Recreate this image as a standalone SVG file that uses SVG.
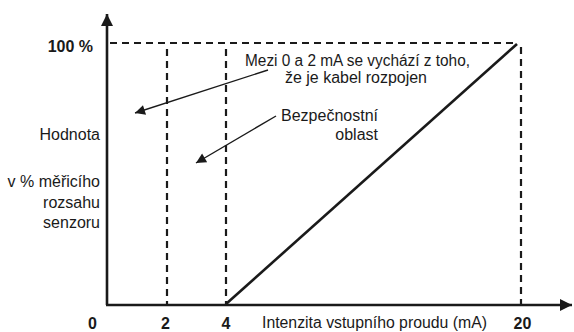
<svg xmlns="http://www.w3.org/2000/svg" width="574" height="332" viewBox="0 0 574 332">
<style>
.t{font-family:"Liberation Sans",Arial,sans-serif;font-size:16px;fill:#1a1a1a}
.b{font-family:"Liberation Sans",Arial,sans-serif;font-size:16px;font-weight:bold;fill:#1a1a1a}
.axis{stroke:#1a1a1a;stroke-width:2.6;fill:none}
.dash{stroke:#1a1a1a;stroke-width:2.2;stroke-dasharray:7 5;fill:none}
.ptr{stroke:#1a1a1a;stroke-width:1.4;fill:none}
</style>
<defs>
<marker id="ah" viewBox="0 0 10 10" refX="10" refY="5" markerWidth="15" markerHeight="10" markerUnits="userSpaceOnUse" orient="auto">
<path d="M0,0 L10,5 L0,10 Z" fill="#1a1a1a"/>
</marker>
<marker id="big" viewBox="0 0 10 10" refX="10" refY="5" markerWidth="16" markerHeight="12" markerUnits="userSpaceOnUse" orient="auto">
<path d="M0,0 L10,5 L0,10 Z" fill="#1a1a1a"/>
</marker>
</defs>
<g id="grid">
<path class="dash" d="M110,43 H517"/>
<path class="dash" d="M167,49 V305"/>
<path class="dash" d="M226,49 V305"/>
<path class="dash" d="M521,47 V305"/>
</g>
<g id="axes">
<path class="axis" d="M107,305 V14" marker-end="url(#big)"/>
<path class="axis" d="M106,305 H572" marker-end="url(#big)"/>
</g>
<g id="curve">
<path class="axis" d="M226,304 L517,44"/>
</g>
<g id="connectors">
<path class="ptr" d="M268,70 L135,113" marker-end="url(#ah)"/>
<path class="ptr" d="M276,116 L196,163" marker-end="url(#ah)"/>
</g>
<g id="y-labels">
<text class="b" x="93" y="52" text-anchor="end" font-size="17">100 %</text>
<text class="t" x="100" y="140" text-anchor="end" font-size="17">Hodnota</text>
<text class="t" x="100" y="187" text-anchor="end">v % měřicího</text>
<text class="t" x="100" y="208" text-anchor="end">rozsahu</text>
<text class="t" x="100" y="228" text-anchor="end">senzoru</text>
</g>
<g id="note-cable">
<text class="t" x="245" y="66" font-size="15" textLength="225" lengthAdjust="spacingAndGlyphs">Mezi 0 a 2 mA se vychází z toho,</text>
<text class="t" x="285" y="83" font-size="15" textLength="142" lengthAdjust="spacingAndGlyphs">že je kabel rozpojen</text>
</g>
<g id="note-safety">
<text class="t" x="378" y="121" text-anchor="end">Bezpečnostní</text>
<text class="t" x="378" y="140" text-anchor="end">oblast</text>
</g>
<g id="x-labels">
<text class="b" x="92.5" y="329" text-anchor="middle">0</text>
<text class="b" x="165.5" y="329" text-anchor="middle">2</text>
<text class="b" x="226" y="329" text-anchor="middle">4</text>
<text class="b" x="522.5" y="329" text-anchor="middle">20</text>
<text class="t" x="262" y="328" textLength="225" lengthAdjust="spacingAndGlyphs">Intenzita vstupního proudu (mA)</text>
</g>
</svg>
